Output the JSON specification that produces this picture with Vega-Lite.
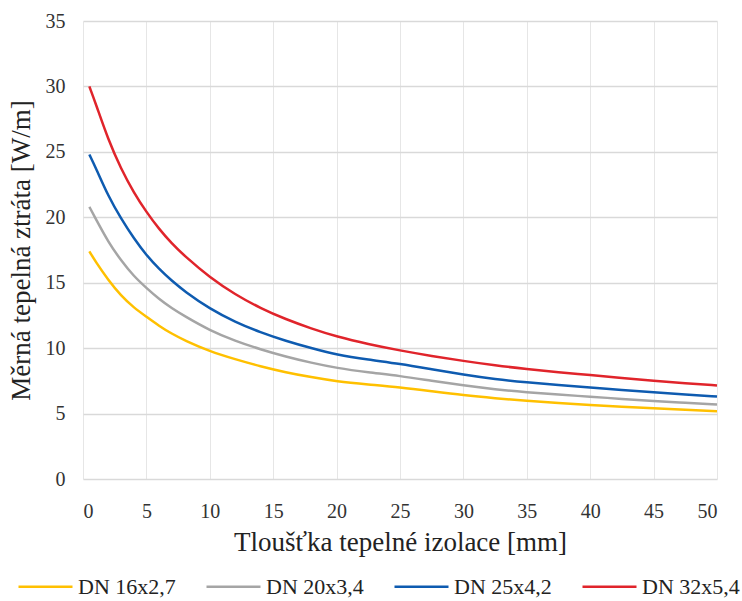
{
  "$schema": "https://vega.github.io/schema/vega-lite/v6.json",
  "autosize": {"type": "none"},
  "padding": {"left": 83, "top": 21, "right": 25, "bottom": 122},
  "width": 634,
  "height": 458,
  "background": "white",
  "config": {
    "view": {"stroke": null},
    "font": "'Liberation Serif', 'DejaVu Serif', serif"
  },
  "datasets": {
    "d": [
      {"t": 0.5, "q": 17.4, "s": "DN 16x2,7"}, {"t": 1, "q": 16.6, "s": "DN 16x2,7"}, {"t": 2, "q": 15.2, "s": "DN 16x2,7"}, {"t": 3, "q": 14.0, "s": "DN 16x2,7"}, {"t": 4, "q": 13.1, "s": "DN 16x2,7"}, {"t": 5, "q": 12.4, "s": "DN 16x2,7"}, {"t": 6, "q": 11.7, "s": "DN 16x2,7"}, {"t": 7, "q": 11.1, "s": "DN 16x2,7"}, {"t": 8, "q": 10.6, "s": "DN 16x2,7"}, {"t": 10, "q": 9.75, "s": "DN 16x2,7"}, {"t": 12, "q": 9.15, "s": "DN 16x2,7"}, {"t": 14, "q": 8.6, "s": "DN 16x2,7"}, {"t": 16, "q": 8.15, "s": "DN 16x2,7"}, {"t": 18, "q": 7.78, "s": "DN 16x2,7"}, {"t": 20, "q": 7.46, "s": "DN 16x2,7"}, {"t": 22.5, "q": 7.22, "s": "DN 16x2,7"}, {"t": 25, "q": 7.0, "s": "DN 16x2,7"}, {"t": 27.5, "q": 6.7, "s": "DN 16x2,7"}, {"t": 30, "q": 6.4, "s": "DN 16x2,7"}, {"t": 32.5, "q": 6.17, "s": "DN 16x2,7"}, {"t": 35, "q": 5.97, "s": "DN 16x2,7"}, {"t": 37.5, "q": 5.8, "s": "DN 16x2,7"}, {"t": 40, "q": 5.65, "s": "DN 16x2,7"}, {"t": 42.5, "q": 5.52, "s": "DN 16x2,7"}, {"t": 45, "q": 5.4, "s": "DN 16x2,7"}, {"t": 47.5, "q": 5.29, "s": "DN 16x2,7"}, {"t": 50, "q": 5.18, "s": "DN 16x2,7"},

      {"t": 0.5, "q": 20.8, "s": "DN 20x3,4"}, {"t": 1, "q": 19.9, "s": "DN 20x3,4"}, {"t": 2, "q": 18.1, "s": "DN 20x3,4"}, {"t": 3, "q": 16.7, "s": "DN 20x3,4"}, {"t": 4, "q": 15.5, "s": "DN 20x3,4"}, {"t": 5, "q": 14.6, "s": "DN 20x3,4"}, {"t": 6, "q": 13.75, "s": "DN 20x3,4"}, {"t": 7, "q": 13.05, "s": "DN 20x3,4"}, {"t": 8, "q": 12.45, "s": "DN 20x3,4"}, {"t": 10, "q": 11.35, "s": "DN 20x3,4"}, {"t": 12, "q": 10.55, "s": "DN 20x3,4"}, {"t": 14, "q": 9.9, "s": "DN 20x3,4"}, {"t": 16, "q": 9.35, "s": "DN 20x3,4"}, {"t": 18, "q": 8.88, "s": "DN 20x3,4"}, {"t": 20, "q": 8.48, "s": "DN 20x3,4"}, {"t": 22.5, "q": 8.15, "s": "DN 20x3,4"}, {"t": 25, "q": 7.88, "s": "DN 20x3,4"}, {"t": 27.5, "q": 7.5, "s": "DN 20x3,4"}, {"t": 30, "q": 7.15, "s": "DN 20x3,4"}, {"t": 32.5, "q": 6.85, "s": "DN 20x3,4"}, {"t": 35, "q": 6.63, "s": "DN 20x3,4"}, {"t": 37.5, "q": 6.45, "s": "DN 20x3,4"}, {"t": 40, "q": 6.29, "s": "DN 20x3,4"}, {"t": 42.5, "q": 6.12, "s": "DN 20x3,4"}, {"t": 45, "q": 5.96, "s": "DN 20x3,4"}, {"t": 47.5, "q": 5.83, "s": "DN 20x3,4"}, {"t": 50, "q": 5.7, "s": "DN 20x3,4"},

      {"t": 0.5, "q": 24.8, "s": "DN 25x4,2"}, {"t": 1, "q": 23.8, "s": "DN 25x4,2"}, {"t": 2, "q": 21.6, "s": "DN 25x4,2"}, {"t": 3, "q": 19.9, "s": "DN 25x4,2"}, {"t": 4, "q": 18.4, "s": "DN 25x4,2"}, {"t": 5, "q": 17.1, "s": "DN 25x4,2"}, {"t": 6, "q": 16.05, "s": "DN 25x4,2"}, {"t": 7, "q": 15.15, "s": "DN 25x4,2"}, {"t": 8, "q": 14.35, "s": "DN 25x4,2"}, {"t": 10, "q": 13.0, "s": "DN 25x4,2"}, {"t": 12, "q": 12.0, "s": "DN 25x4,2"}, {"t": 14, "q": 11.2, "s": "DN 25x4,2"}, {"t": 16, "q": 10.55, "s": "DN 25x4,2"}, {"t": 18, "q": 10.0, "s": "DN 25x4,2"}, {"t": 20, "q": 9.5, "s": "DN 25x4,2"}, {"t": 22.5, "q": 9.12, "s": "DN 25x4,2"}, {"t": 25, "q": 8.8, "s": "DN 25x4,2"}, {"t": 27.5, "q": 8.38, "s": "DN 25x4,2"}, {"t": 30, "q": 7.97, "s": "DN 25x4,2"}, {"t": 32.5, "q": 7.62, "s": "DN 25x4,2"}, {"t": 35, "q": 7.38, "s": "DN 25x4,2"}, {"t": 37.5, "q": 7.18, "s": "DN 25x4,2"}, {"t": 40, "q": 7.0, "s": "DN 25x4,2"}, {"t": 42.5, "q": 6.8, "s": "DN 25x4,2"}, {"t": 45, "q": 6.62, "s": "DN 25x4,2"}, {"t": 47.5, "q": 6.45, "s": "DN 25x4,2"}, {"t": 50, "q": 6.3, "s": "DN 25x4,2"},

      {"t": 0.5, "q": 30.0, "s": "DN 32x5,4"}, {"t": 1, "q": 28.7, "s": "DN 32x5,4"}, {"t": 2, "q": 25.9, "s": "DN 32x5,4"}, {"t": 3, "q": 23.7, "s": "DN 32x5,4"}, {"t": 4, "q": 21.9, "s": "DN 32x5,4"}, {"t": 5, "q": 20.4, "s": "DN 32x5,4"}, {"t": 6, "q": 19.1, "s": "DN 32x5,4"}, {"t": 7, "q": 18.0, "s": "DN 32x5,4"}, {"t": 8, "q": 17.05, "s": "DN 32x5,4"}, {"t": 10, "q": 15.4, "s": "DN 32x5,4"}, {"t": 12, "q": 14.1, "s": "DN 32x5,4"}, {"t": 14, "q": 13.05, "s": "DN 32x5,4"}, {"t": 16, "q": 12.2, "s": "DN 32x5,4"}, {"t": 18, "q": 11.5, "s": "DN 32x5,4"}, {"t": 20, "q": 10.88, "s": "DN 32x5,4"}, {"t": 22.5, "q": 10.3, "s": "DN 32x5,4"}, {"t": 25, "q": 9.82, "s": "DN 32x5,4"}, {"t": 27.5, "q": 9.4, "s": "DN 32x5,4"}, {"t": 30, "q": 9.02, "s": "DN 32x5,4"}, {"t": 32.5, "q": 8.68, "s": "DN 32x5,4"}, {"t": 35, "q": 8.4, "s": "DN 32x5,4"}, {"t": 37.5, "q": 8.15, "s": "DN 32x5,4"}, {"t": 40, "q": 7.95, "s": "DN 32x5,4"}, {"t": 42.5, "q": 7.72, "s": "DN 32x5,4"}, {"t": 45, "q": 7.5, "s": "DN 32x5,4"}, {"t": 47.5, "q": 7.32, "s": "DN 32x5,4"}, {"t": 50, "q": 7.15, "s": "DN 32x5,4"}
    ]
  },
  "data": {"name": "d"},
  "mark": {"type": "line", "strokeWidth": 2.5, "interpolate": "basis"},
  "encoding": {
    "x": {
      "field": "t", "type": "quantitative",
      "scale": {"domain": [0, 50], "nice": false, "zero": true},
      "axis": {
        "values": [0, 5, 10, 15, 20, 25, 30, 35, 40, 45, 50],
        "title": "Tloušťka tepelné izolace [mm]",
        "titleFont": "'Liberation Serif', 'DejaVu Serif', serif", "titleFontSize": 27, "titleFontWeight": "normal", "titleColor": "#222",
        "titlePadding": 8,
        "labelFont": "'Liberation Serif', 'DejaVu Serif', serif", "labelFontSize": 20, "labelColor": "#333", "labelPadding": 22,
        "domain": false, "ticks": false,
        "grid": true, "gridColor": "#e6e6e6", "gridWidth": 1
      }
    },
    "y": {
      "field": "q", "type": "quantitative",
      "scale": {"domain": [0, 35], "nice": false},
      "axis": {
        "values": [0, 5, 10, 15, 20, 25, 30, 35],
        "title": "Měrná tepelná ztráta [W/m]",
        "titleFont": "'Liberation Serif', 'DejaVu Serif', serif", "titleFontSize": 27, "titleFontWeight": "normal", "titleColor": "#222",
        "titlePadding": 10,
        "labelFont": "'Liberation Serif', 'DejaVu Serif', serif", "labelFontSize": 20, "labelColor": "#333", "labelPadding": 18,
        "domain": false, "ticks": false,
        "grid": true, "gridColor": "#d9d9d9", "gridWidth": 1.5
      }
    },
    "color": {
      "field": "s", "type": "nominal",
      "scale": {
        "domain": ["DN 16x2,7", "DN 20x3,4", "DN 25x4,2", "DN 32x5,4"],
        "range": ["#FFC000", "#A5A5A5", "#0E5BB0", "#E0242B"]
      },
      "legend": {
        "title": null,
        "orient": "none",
        "direction": "horizontal",
        "legendX": -66,
        "legendY": 537,
        "symbolType": "stroke",
        "symbolSize": 2916,
        "symbolStrokeWidth": 2.5,
        "labelFont": "'Liberation Serif', 'DejaVu Serif', serif",
        "labelFontSize": 22,
        "labelColor": "#222",
        "labelOffset": 4,
        "columnPadding": 25
      }
    }
  }
}
